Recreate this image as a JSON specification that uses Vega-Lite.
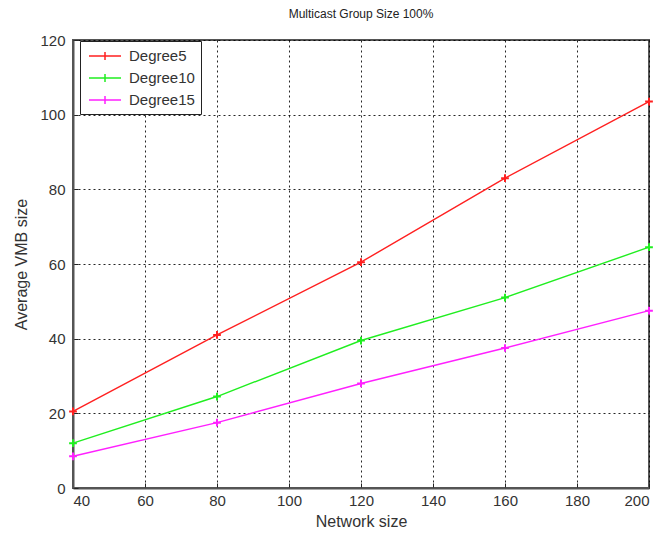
{
  "$schema": "https://vega.github.io/schema/vega-lite/v6.json",
  "autosize": {"type": "none"},
  "width": 576,
  "height": 448,
  "padding": {"left": 73, "top": 40, "right": 9, "bottom": 48},
  "background": "white",
  "title": {"text": "Multicast Group Size 100%", "font": "Liberation Sans", "fontSize": 12, "fontWeight": "normal", "color": "#222", "offset": 12},
  "config": {
    "view": {"stroke": "#555", "strokeWidth": 2},
    "axis": {
      "labelFont": "Liberation Sans", "labelFontSize": 15, "labelColor": "#333",
      "titleFont": "Liberation Sans", "titleFontSize": 16, "titleFontWeight": "normal", "titleColor": "#333",
      "grid": true, "gridColor": "#000", "gridDash": [2, 3], "gridOpacity": 0.85, "gridWidth": 1,
      "domainColor": "#555", "domainWidth": 2, "tickColor": "#222", "tickSize": -5
    }
  },
  "data": {"values": [
    {"network": 40, "vmb": 20.5, "series": "Degree5"},
    {"network": 80, "vmb": 41, "series": "Degree5"},
    {"network": 120, "vmb": 60.5, "series": "Degree5"},
    {"network": 160, "vmb": 83, "series": "Degree5"},
    {"network": 200, "vmb": 103.5, "series": "Degree5"},
    {"network": 40, "vmb": 12, "series": "Degree10"},
    {"network": 80, "vmb": 24.5, "series": "Degree10"},
    {"network": 120, "vmb": 39.5, "series": "Degree10"},
    {"network": 160, "vmb": 51, "series": "Degree10"},
    {"network": 200, "vmb": 64.5, "series": "Degree10"},
    {"network": 40, "vmb": 8.5, "series": "Degree15"},
    {"network": 80, "vmb": 17.5, "series": "Degree15"},
    {"network": 120, "vmb": 28, "series": "Degree15"},
    {"network": 160, "vmb": 37.5, "series": "Degree15"},
    {"network": 200, "vmb": 47.5, "series": "Degree15"}
  ]},
  "encoding": {
    "x": {"field": "network", "type": "quantitative", "title": "Network size",
          "scale": {"domain": [40, 200], "nice": false, "zero": false},
          "axis": {"values": [40, 60, 80, 100, 120, 140, 160, 180, 200], "titlePadding": 5, "labelPadding": 10}},
    "y": {"field": "vmb", "type": "quantitative", "title": "Average VMB size",
          "scale": {"domain": [0, 120], "nice": false},
          "axis": {"values": [0, 20, 40, 60, 80, 100, 120], "titlePadding": 10, "labelPadding": 13}},
    "color": {"field": "series", "type": "nominal",
              "scale": {"domain": ["Degree5", "Degree10", "Degree15"], "range": ["#ff2020", "#20ee20", "#ff20ff"]},
              "legend": {"title": null, "orient": "none", "legendX": 7, "legendY": 1,
                         "fillColor": "white", "strokeColor": "#222",
                         "padding": 6, "rowPadding": 5, "labelFont": "Liberation Sans", "labelFontSize": 15, "labelColor": "#333",
                         "symbolType": "M-2,0L2,0M0,-0.5L0,0.5", "symbolSize": 256, "symbolOffset": 10, "symbolStrokeWidth": 1.5, "symbolFillColor": "transparent", "labelOffset": 15}}
  },
  "layer": [
    {"mark": {"type": "line", "strokeWidth": 1.4}},
    {"mark": {"type": "point", "shape": "M-1,0L1,0M0,-1L0,1", "size": 60, "filled": false, "strokeWidth": 2, "opacity": 1}}
  ]
}
